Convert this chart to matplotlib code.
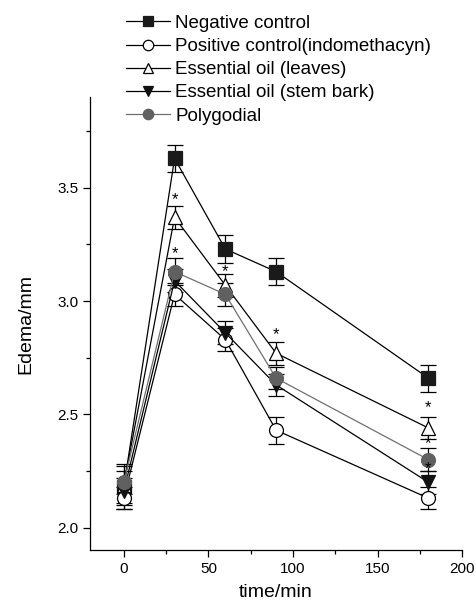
import matplotlib.pyplot as plt
from matplotlib.ticker import MultipleLocator

plt.rcParams['font.family'] = ['Liberation Sans', 'DejaVu Sans']

time = [0, 30, 60, 90, 180]

neg = [2.18, 3.63, 3.23, 3.13, 2.66]
neg_err = [0.10, 0.06, 0.06, 0.06, 0.06]
pos = [2.13, 3.03, 2.83, 2.43, 2.13]
pos_err = [0.05, 0.05, 0.05, 0.06, 0.05]
leaves = [2.19, 3.37, 3.07, 2.77, 2.44]
leaves_err = [0.08, 0.05, 0.05, 0.05, 0.05]
stem = [2.16, 3.09, 2.86, 2.63, 2.20]
stem_err = [0.06, 0.05, 0.05, 0.05, 0.05]
poly = [2.20, 3.13, 3.03, 2.66, 2.30]
poly_err = [0.05, 0.06, 0.05, 0.05, 0.05]

# звёздочки значимости: (время, высота)
stars = [(30, 3.45), (30, 3.21), (60, 3.13), (90, 2.85), (180, 2.53), (180, 2.37), (180, 2.26)]

fig = plt.figure(figsize=(4.76, 6.04), dpi=100)
ax = fig.add_axes([0.189, 0.089, 0.782, 0.75])

series = [
    (neg, neg_err, 'Negative control', 's', '#1a1a1a', '#1a1a1a', 'black'),
    (pos, pos_err, 'Positive control(indomethacyn)', 'o', 'white', 'black', 'black'),
    (leaves, leaves_err, 'Essential oil (leaves)', '^', 'white', 'black', 'black'),
    (stem, stem_err, 'Essential oil (stem bark)', 'v', '#111111', '#111111', 'black'),
    (poly, poly_err, 'Polygodial', 'o', '#606060', '#606060', '#707070'),
]

handles = []
for y, e, lab, m, fc, ec, lc in series:
    ax.errorbar(time, y, yerr=e, fmt='none', ecolor='black', elinewidth=0.9,
                capsize=5.5, capthick=0.9, zorder=2)
    h, = ax.plot(time, y, marker=m, markersize=10, markerfacecolor=fc,
                 markeredgecolor=ec, markeredgewidth=0.9, color=lc,
                 linewidth=0.9, label=lab, zorder=3)
    handles.append(h)

for sx, sy in stars:
    ax.text(sx, sy, '*', ha='center', va='center', fontsize=12)

ax.set_xlim(-20, 200)
ax.set_ylim(1.9, 3.9)
ax.xaxis.set_major_locator(MultipleLocator(50))
ax.xaxis.set_minor_locator(MultipleLocator(25))
ax.yaxis.set_major_locator(MultipleLocator(0.5))
ax.yaxis.set_minor_locator(MultipleLocator(0.25))
ax.tick_params(which='major', direction='out', length=5, width=0.9, labelsize=11)
ax.tick_params(which='minor', direction='out', length=3, width=0.9)
ax.spines['top'].set_visible(False)
ax.spines['right'].set_visible(False)
ax.spines['left'].set_linewidth(0.9)
ax.spines['bottom'].set_linewidth(0.9)

ax.set_xlabel('time/min', fontsize=14, labelpad=6)
ax.set_ylabel('Edema/mm', fontsize=14, labelpad=16)

fig.legend(handles=handles, loc='upper left', bbox_to_anchor=(0.238, 0.997),
           frameon=False, fontsize=13.5, handlelength=2.3, handletextpad=0.3,
           labelspacing=0.32, borderaxespad=0.3, markerscale=0.75)

fig.savefig('out.png', dpi=100)
